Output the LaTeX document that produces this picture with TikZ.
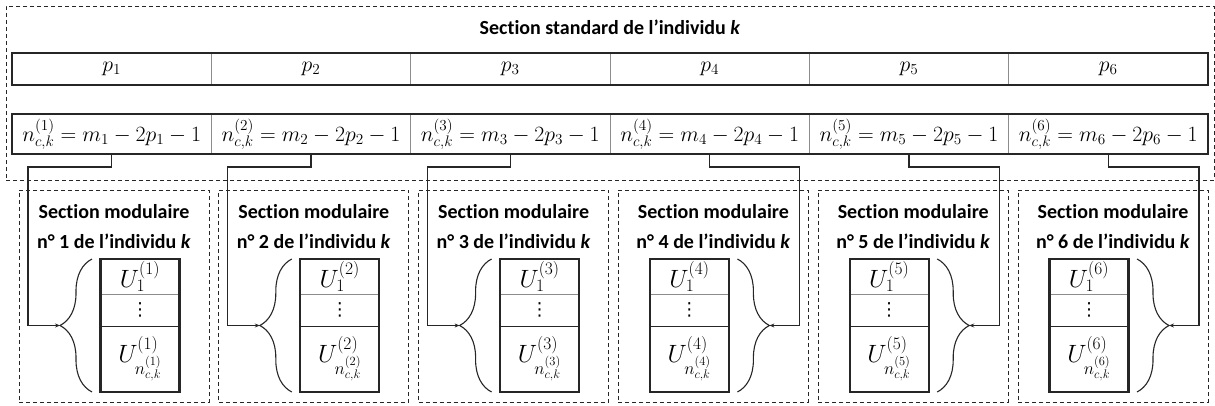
\RequirePackage{fix-cm}
\documentclass[tikz,border=0pt]{standalone}
\usepackage[no-math]{fontspec}
\setmainfont{Carlito}[Ligatures={NoCommon}]
\newfontfamily\dejavu{DejaVu Sans}
\usetikzlibrary{decorations.pathreplacing,arrows.meta}
\definecolor{lineC}{gray}{0.15}
\definecolor{sepC}{gray}{0.55}
\begin{document}
\begin{tikzpicture}[x=1pt,y=-1pt,
  dashbox/.style={draw=lineC,line width=0.9pt,dash pattern=on 4pt off 3pt,inner sep=0pt,outer sep=0pt},
  ttl/.style={font=\bfseries\fontsize{20}{30}\selectfont,align=center,inner sep=0pt},
  cell/.style={draw=sepC,line width=0.8pt,inner sep=0pt,outer sep=0pt,minimum width=199.33pt,font=\fontsize{21.8}{25}\selectfont},
  thickb/.style={draw=lineC,line width=2.2pt},
  urow/.style={draw=sepC,line width=0.8pt,inner sep=0pt,outer sep=0pt,minimum width=79pt,font=\fontsize{25}{27}\selectfont},
  bracest/.style={draw=lineC,line width=1.1pt,decorate,decoration={brace,amplitude=32pt}},
  conn/.style={draw=lineC,line width=1.1pt,-{Stealth[length=5pt,width=4pt]}}]
\useasboundingbox (0,0) rectangle (1215,406);
% standard section
\node[dashbox,minimum width=1208pt,minimum height=174pt] (std) at (610,93) {};
\node[ttl] (title) at (610,27) {Section standard de l’individu \textit{k}};
\foreach \i in {1,...,6}{
  \pgfmathsetmacro{\cx}{12+199.33*(\i-0.5)}
  \node[cell,minimum height=32pt] (p\i) at (\cx,69) {$p_{\i}$};
  \node[cell,minimum height=40pt] (n\i) at (\cx,134) {$n_{c,k}^{(\i)} = m_{\i} - 2p_{\i} - 1$};
}
\draw[thickb] (p1.north west) rectangle (p6.south east);
\draw[thickb] (n1.north west) rectangle (n6.south east);
% modular sections
\foreach \i in {1,...,6}{
  \pgfmathsetmacro{\L}{19+199.8*(\i-1)}
  \node[dashbox,minimum width=190pt,minimum height=212pt] (m\i) at (\L+95,296) {};
  \node[ttl] (mt\i) at (\L+95,227) {Section modulaire\\n° \i\ de l’individu \textit{k}};
  \ifnum\i<4
    \pgfmathsetmacro{\tx}{\L+121}
    \pgfmathsetmacro{\bx}{\L+73}
    \pgfmathsetmacro{\kx}{\L+9}
  \else
    \pgfmathsetmacro{\tx}{\L+71}
    \pgfmathsetmacro{\bx}{\L+119}
    \pgfmathsetmacro{\kx}{\L+181}
  \fi
  \node[urow,minimum height=35pt] (ua\i) at (\tx,276.5) {$U_1^{(\i)}$};
  \node[urow,minimum height=32pt,font=\dejavu\fontsize{18}{20}\selectfont] (ub\i) at (\tx,310) {⋮};
  \node[urow,minimum height=66pt] (uc\i) at (\tx,359) {$U^{(\i)}_{n^{(\i)}_{c,k}}$};
  \draw[lineC,line width=0.9pt] (ub\i.south west) -- (ub\i.south east);
  \draw[thickb] (ua\i.north west) rectangle (uc\i.south east);
  \ifnum\i<4
    \draw[bracest] (\bx,392) -- (\bx,259);
    \coordinate (b\i) at (\bx-32,325.5);
  \else
    \draw[bracest] (\bx,259) -- (\bx,392);
    \coordinate (b\i) at (\bx+32,325.5);
  \fi
  \coordinate (k\i) at (\kx,167);
  \draw[conn] (n\i.south) |- (k\i) |- (b\i);
}
\end{tikzpicture}
\end{document}
